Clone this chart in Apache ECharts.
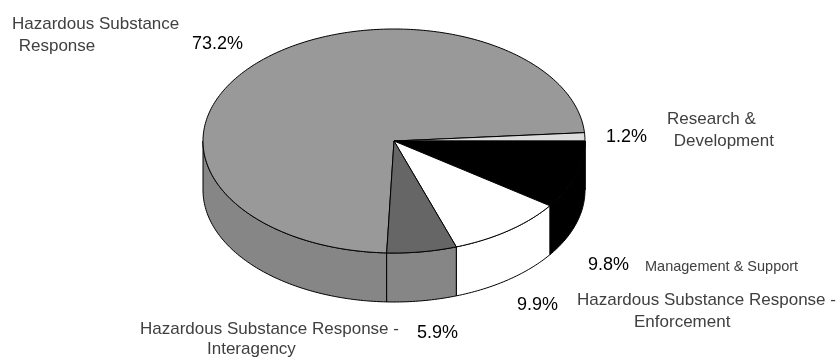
<!DOCTYPE html>
<html><head><meta charset="utf-8">
<script src="https://cdn.jsdelivr.net/npm/echarts@6/dist/echarts.min.js"></script>
<style>html,body{margin:0;padding:0;background:#fff}#c{width:837px;height:358px}</style>
</head><body><div id="c"></div>
<script>
// ---- data ----
const categories = [
  'Hazardous Substance Response',
  'Research & Development',
  'Management & Support',
  'Hazardous Substance Response - Enforcement',
  'Hazardous Substance Response - Interagency'
];
const values = [73.2, 1.2, 9.8, 9.9, 5.9];
const percentLabels = ['73.2%', '1.2%', '9.8%', '9.9%', '5.9%'];
const nameLines = [
  ['Hazardous Substance', ' Response'],
  ['Research &', ' Development'],
  ['Management & Support'],
  ['Hazardous Substance Response -', 'Enforcement'],
  ['Hazardous Substance Response -', 'Interagency']
];

// ---- style / layout ----
const topColors  = ['#999999', '#dcdcdc', '#000000', '#ffffff', '#666666'];
const sideColors = ['#868686', '#bdbdbd', '#000000', '#ffffff', '#868686'];
const startAngle = 92.2;      // degrees, screen-clockwise from 3 o'clock
const depth = 49 / 112;       // side height in y-axis units (radius = 1)
const nameFont = '17px "Liberation Sans", Arial, sans-serif';
const smallNameFont = '14.5px "Liberation Sans", Arial, sans-serif';
const pctFont = '18px "Liberation Sans", Arial, sans-serif';
// left x, baseline y for each line
const namePos = [
  [[12, 30], [14, 52]],
  [[667, 125], [669, 147]],
  [[645, 272]],
  [[577, 306], [634, 328]],
  [[140, 335], [207, 355]]
];
const nameFonts = [nameFont, nameFont, smallNameFont, nameFont, nameFont];
const pctPos = [[192, 51], [606, 144], [588, 272], [517, 312], [417, 340]];

const total = values.reduce((a, b) => a + b, 0);
const starts = [];
{ let acc = startAngle; values.forEach(v => { starts.push(acc); acc += v / total * 360; }); }

function renderItem(params, api) {
  const i = params.dataIndex;
  const s = starts[i];
  const e = s + api.value(1) / total * 360;
  const rad = d => d * Math.PI / 180;
  const pt = (t, dy) => api.coord([Math.cos(rad(t)), -Math.sin(rad(t)) - dy]);
  const arc = (a, b, dy) => {
    const pts = [];
    const n = Math.max(2, Math.ceil((b - a) / 1));
    for (let k = 0; k <= n; k++) pts.push(pt(a + (b - a) * k / n, dy));
    return pts;
  };
  const children = [];
  const lineStyle = { stroke: '#000', lineWidth: 1, lineJoin: 'round' };
  // visible front side (screen angle 0..180, also 360..540)
  [[0, 180], [360, 540]].forEach(([lo, hi]) => {
    const a = Math.max(s, lo), b = Math.min(e, hi);
    if (b - a > 0.01) {
      const pts = arc(a, b, 0).concat(arc(a, b, depth).reverse());
      children.push({ type: 'polygon', shape: { points: pts },
        style: Object.assign({ fill: sideColors[i] }, lineStyle) });
    }
  });
  const topPts = [api.coord([0, 0])].concat(arc(s, e, 0));
  children.push({ type: 'polygon', shape: { points: topPts },
    style: Object.assign({ fill: topColors[i] }, lineStyle) });
  return { type: 'group', children };
}

const graphics = [];
nameLines.forEach((lines, i) => {
  const fsz = parseFloat(nameFonts[i]);
  lines.forEach((txt, j) => {
    const [x, y] = namePos[i][j];
    graphics.push({ type: 'text', x: x, y: y - fsz * 0.35, silent: true,
      style: { text: txt, font: nameFonts[i], fill: '#404040', verticalAlign: 'middle', align: 'left' } });
  });
  const [px, py] = pctPos[i];
  graphics.push({ type: 'text', x: px, y: py - 6.5, silent: true,
    style: { text: percentLabels[i], font: pctFont, fill: '#000', verticalAlign: 'middle', align: 'left' } });
});

const chart = echarts.init(document.getElementById('c'), null, { renderer: 'canvas' });
chart.setOption({
  animation: false,
  backgroundColor: '#fff',
  grid: { left: 203, right: 252, top: 29, bottom: 56 },
  xAxis: { type: 'value', min: -1, max: 1, show: false },
  yAxis: { type: 'value', min: -1 - depth, max: 1, show: false },
  series: [{
    type: 'custom',
    name: 'Budget',
    coordinateSystem: 'cartesian2d',
    renderItem: renderItem,
    data: values.map((v, i) => ({ name: categories[i], value: [i, v] }))
  }],
  graphic: graphics
});
</script>
</body></html>
